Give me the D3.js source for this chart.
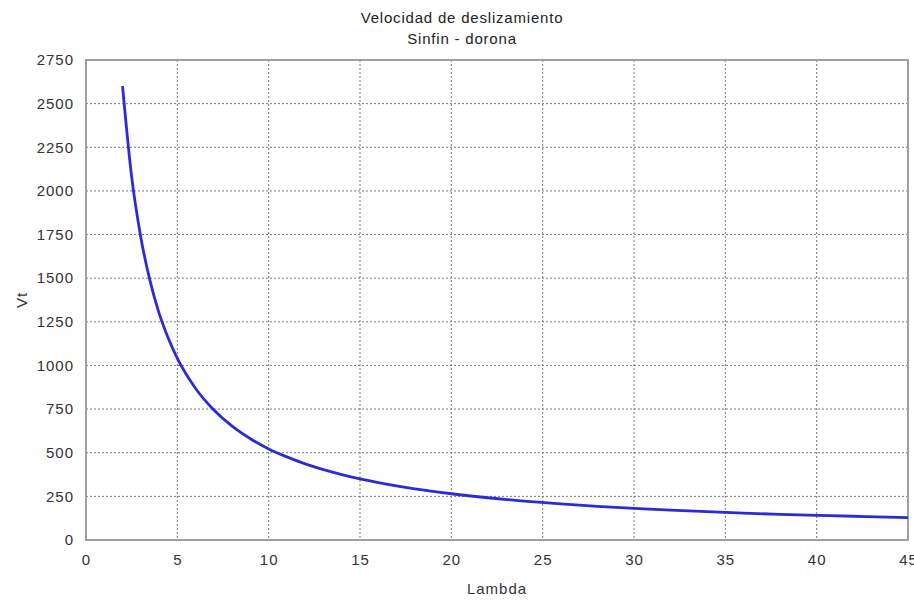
<!DOCTYPE html>
<html>
<head>
<meta charset="utf-8">
<script src="https://cdn.jsdelivr.net/npm/d3@7"></script>
<style>
  body { margin: 0; background: #fff; }
  text { font-family: "Liberation Sans", Arial, sans-serif; }
</style>
</head>
<body>
<script>
// values
var lambda = [2, 2.5, 3, 3.5, 4, 4.5, 5, 6, 7, 8, 9, 10, 11, 12, 13, 14, 15, 16, 18, 20, 22, 24, 26, 28, 30, 32, 34, 36, 38, 40, 42, 45];
var vt = [2600, 2080, 1735, 1487, 1300, 1157, 1040, 868, 745, 652, 580, 522, 476, 436, 403, 375, 350, 329, 293, 265, 242, 223, 207, 193, 181, 171, 162, 154, 147, 141, 136, 128];
var xTicks = [0, 5, 10, 15, 20, 25, 30, 35, 40, 45];
var yTicks = [0, 250, 500, 750, 1000, 1250, 1500, 1750, 2000, 2250, 2500, 2750];

var width = 914, height = 600;
var plotLeft = 86, plotRight = 908, plotTop = 60, plotBottom = 540;

var svg = d3.select("body").append("svg").attr("width", width).attr("height", height);

var x = d3.scaleLinear().domain([0, 45]).range([plotLeft, plotRight]);
var y = d3.scaleLinear().domain([0, 2750]).range([plotBottom, plotTop]);

// grid
svg.append("g").selectAll("line")
  .data(xTicks).enter().append("line")
    .attr("x1", function(d){ return x(d); }).attr("x2", function(d){ return x(d); })
    .attr("y1", plotTop).attr("y2", plotBottom)
    .attr("stroke", "#777").attr("stroke-width", 1).attr("stroke-dasharray", "2,2");
svg.append("g").selectAll("line")
  .data(yTicks).enter().append("line")
    .attr("x1", plotLeft).attr("x2", plotRight)
    .attr("y1", function(d){ return y(d); }).attr("y2", function(d){ return y(d); })
    .attr("stroke", "#777").attr("stroke-width", 1).attr("stroke-dasharray", "2,2");

// frame
svg.append("rect")
  .attr("x", plotLeft).attr("y", plotTop).attr("width", plotRight - plotLeft).attr("height", plotBottom - plotTop)
  .attr("fill", "none").attr("stroke", "#a0a0a0").attr("stroke-width", 2);

// axes (labels only)
var xAxis = svg.append("g").attr("transform", "translate(0," + plotBottom + ")")
  .call(d3.axisBottom(x).tickValues(xTicks).tickSize(0).tickPadding(14));
var yAxis = svg.append("g").attr("transform", "translate(" + plotLeft + ",0)")
  .call(d3.axisLeft(y).tickValues(yTicks).tickFormat(d3.format("d")).tickSize(0).tickPadding(12));
[xAxis, yAxis].forEach(function(a){
  a.select(".domain").remove();
  a.selectAll("text").attr("font-size", 15).attr("fill", "#333")
    .attr("letter-spacing", 1)
    .style("font-family", "'Liberation Sans', Arial, sans-serif");
});

// curve
var line = d3.line()
  .x(function(d, i){ return x(lambda[i]); })
  .y(function(d){ return y(d); })
  .curve(d3.curveMonotoneX);
svg.append("path")
  .datum(vt)
  .attr("d", line)
  .attr("fill", "none").attr("stroke", "#2b2bd8").attr("stroke-width", 2.8);

// titles
svg.append("text").attr("x", 462).attr("y", 23).attr("text-anchor", "middle")
  .attr("font-size", 15).attr("letter-spacing", 0.8).attr("fill", "#222").text("Velocidad de deslizamiento");
svg.append("text").attr("x", 462).attr("y", 44).attr("text-anchor", "middle")
  .attr("font-size", 15).attr("letter-spacing", 0.8).attr("fill", "#222").text("Sinfin - dorona");
svg.append("text").attr("x", 497).attr("y", 594).attr("text-anchor", "middle")
  .attr("font-size", 15).attr("letter-spacing", 1).attr("fill", "#333").text("Lambda");
svg.append("text").attr("transform", "translate(27,300) rotate(-90)").attr("text-anchor", "middle")
  .attr("font-size", 15).attr("letter-spacing", 1).attr("fill", "#333").text("Vt");
</script>
</body>
</html>
